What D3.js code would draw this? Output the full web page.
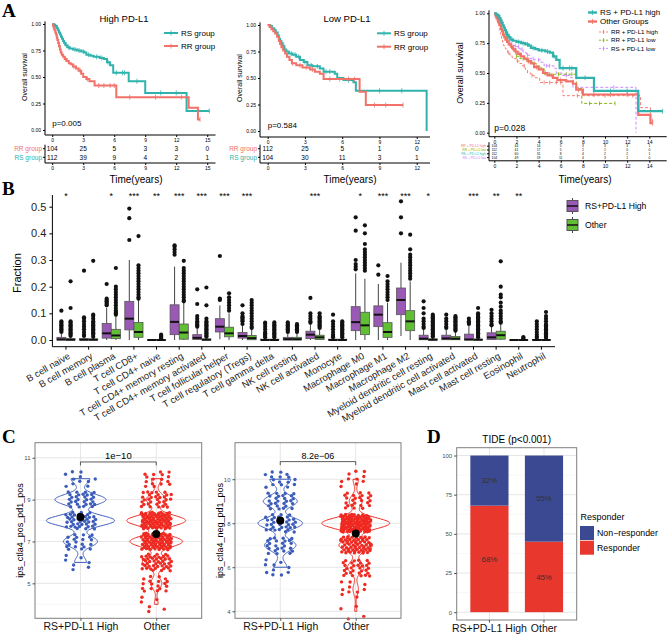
<!DOCTYPE html>
<html>
<head>
<meta charset="utf-8">
<script src="https://cdn.jsdelivr.net/npm/d3@7"></script>
<style>
body { margin: 0; background: #fff; }
svg { display: block; font-family: "Liberation Sans", Arial, sans-serif; }
</style>
</head>
<body>
<svg id="fig" width="669" height="637"></svg>
<script>
// ---------- Panel A: survival curves ([time, survival] steps) ----------
var ticksHigh = [0, 3, 6, 9, 12, 15];
var ticksLow = [0, 3, 6, 9, 12];
var ticksAll = [0, 2, 4, 6, 8, 10, 12, 14];

var highRS = [[0,1],[0.15,0.99],[0.3,0.98],[0.45,0.96],[0.55,0.94],[0.65,0.92],[0.75,0.9],[0.85,0.88],[0.95,0.86],[1.05,0.84],[1.15,0.82],[1.3,0.8],[1.45,0.78],[1.7,0.77],[2.0,0.76],[2.4,0.75],[2.8,0.74],[3.1,0.73],[3.3,0.71],[3.7,0.7],[4.0,0.69],[4.6,0.68],[5.0,0.67],[5.3,0.64],[5.6,0.61],[5.9,0.54],[7.4,0.46],[9.0,0.35],[13.0,0.18]];
var highRSEnd = 15.2;
var highRSCens = [0.3, 1.2, 1.6, 2.2, 2.6, 3.0, 3.5, 4.3, 4.8, 5.4, 6.2, 6.8, 7.0, 8.2, 10.5, 12.0, 15.2];

var highRR = [[0,1],[0.08,0.98],[0.15,0.96],[0.22,0.94],[0.3,0.92],[0.37,0.9],[0.44,0.87],[0.5,0.85],[0.58,0.82],[0.66,0.79],[0.74,0.76],[0.82,0.73],[0.92,0.71],[1.05,0.69],[1.2,0.67],[1.4,0.65],[1.6,0.63],[1.8,0.62],[2.0,0.6],[2.3,0.58],[2.55,0.56],[2.8,0.53],[3.0,0.5],[3.3,0.48],[3.6,0.46],[4.1,0.42],[6.2,0.31],[13.2,0.21],[14.1,0.1]];
var highRREnd = 14.3;
var highRRCens = [1.3, 2.1, 2.7, 3.4, 4.5, 5.0, 5.6, 6.0, 7.5, 10.0, 12.5, 14.3];

var lowRS = [[0,1],[0.2,0.99],[0.35,0.97],[0.5,0.95],[0.65,0.93],[0.8,0.9],[0.9,0.87],[1.0,0.85],[1.1,0.83],[1.2,0.8],[1.35,0.77],[1.5,0.75],[1.7,0.73],[2.0,0.72],[2.3,0.7],[2.6,0.67],[2.9,0.65],[3.2,0.62],[3.6,0.61],[4.2,0.59],[4.5,0.56],[5.4,0.54],[5.6,0.5],[6.1,0.48],[6.9,0.46],[7.1,0.38],[12.8,0]];
var lowRSEnd = 12.8;
var lowRSCens = [0.6, 1.3, 1.9, 2.2, 2.5, 3.0, 3.5, 4.0, 4.7, 5.0, 6.5, 9.0, 10.8];

var lowRR = [[0,1],[0.15,0.98],[0.3,0.96],[0.45,0.94],[0.6,0.92],[0.75,0.89],[0.9,0.85],[1.0,0.82],[1.1,0.79],[1.25,0.76],[1.4,0.73],[1.55,0.7],[1.75,0.67],[1.95,0.64],[2.3,0.62],[2.8,0.6],[3.4,0.58],[3.8,0.56],[4.2,0.54],[4.5,0.49],[7.4,0.37],[7.9,0.245]];
var lowRREnd = 10.9;
var lowRRCens = [1.2, 2.0, 2.6, 3.1, 3.6, 5.0, 5.8, 6.5, 7.0, 8.6, 9.5, 10.9];

var otherGroups = [[0,1],[0.1,0.98],[0.2,0.96],[0.3,0.94],[0.4,0.92],[0.5,0.9],[0.6,0.87],[0.7,0.85],[0.8,0.82],[0.9,0.8],[1.0,0.78],[1.15,0.76],[1.3,0.74],[1.5,0.72],[1.7,0.7],[1.9,0.68],[2.1,0.66],[2.4,0.64],[2.7,0.62],[3.0,0.6],[3.3,0.58],[3.6,0.55],[4.0,0.53],[4.4,0.5],[4.8,0.48],[5.3,0.46],[5.7,0.44],[6.5,0.43],[7.1,0.41],[7.4,0.36],[8.0,0.32],[13.0,0.15],[14.1,0.08]];
var otherGroupsEnd = 14.3;
var otherGroupsCens = [1.6, 2.3, 3.1, 3.8, 4.6, 5.2, 6.0, 7.6, 9.0, 10.5, 12.0, 14.3];

// numbers at risk
var riskHighRR = [104, 25, 5, 3, 3, 0];
var riskHighRS = [112, 39, 9, 4, 2, 1];
var riskLowRR = [112, 25, 5, 1, 0];
var riskLowRS = [104, 30, 11, 3, 1];
var riskAllRRHigh = [104, 44, 14, 5, 3, 3, 3, 1];
var riskAllRRLow = [112, 41, 17, 5, 2, 1, 0, 0];
var riskAllRSHigh = [112, 60, 31, 8, 4, 2, 2, 1];
var riskAllRSLow = [104, 49, 19, 11, 4, 3, 1, 0];

// ---------- Panel B: immune cell fractions ----------
var cellTypes = ["B cell naive", "B cell memory", "B cell plasma", "T cell CD8+", "T cell CD4+ naive",
  "T cell CD4+ memory resting", "T cell CD4+ memory activated", "T cell follicular helper",
  "T cell regulatory (Tregs)", "T cell gamma delta", "NK cell resting", "NK cell activated", "Monocyte",
  "Macrophage M0", "Macrophage M1", "Macrophage M2", "Myeloid dendritic cell resting",
  "Myeloid dendritic cell activated", "Mast cell activated", "Mast cell resting", "Eosinophil", "Neutrophil"];
var sigMarks = ["*", "", "*", "***", "**", "***", "***", "***", "***", "", "", "***", "", "*", "***", "***", "*", "", "***", "**", "**", ""];

// [lower whisker, q1, median, q3, upper whisker]
var boxHigh = [
  [0,0,0.002,0.01,0.025],[0,0,0.001,0.005,0.012],[0,0.007,0.025,0.062,0.12],[0,0.038,0.08,0.145,0.3],
  [0,0,0,0.001,0.002],[0,0.02,0.068,0.132,0.275],[0,0.002,0.008,0.02,0.045],[0.003,0.03,0.05,0.08,0.13],
  [0,0.007,0.015,0.028,0.055],[0,0,0,0.003,0.007],[0,0,0.003,0.01,0.025],[0,0.005,0.02,0.033,0.06],
  [0,0,0,0.003,0.007],[0,0.035,0.067,0.125,0.25],[0,0.05,0.095,0.128,0.21],[0.015,0.095,0.15,0.195,0.29],
  [0,0.001,0.005,0.018,0.04],[0,0.001,0.006,0.018,0.04],[0,0,0.002,0.022,0.055],[0,0.002,0.01,0.027,0.05],
  [0,0,0,0,0.001],[0,0,0,0.002,0.005]];
var boxOther = [
  [0,0,0.001,0.005,0.012],[0,0,0.001,0.004,0.01],[0,0.005,0.017,0.04,0.09],[0,0.01,0.03,0.066,0.15],
  [0,0,0,0.001,0.003],[0,0.003,0.028,0.06,0.14],[0,0,0.001,0.004,0.01],[0,0.012,0.025,0.048,0.1],
  [0,0.001,0.007,0.017,0.04],[0,0,0,0.003,0.007],[0,0,0.003,0.01,0.025],[0,0.002,0.01,0.018,0.04],
  [0,0,0,0.003,0.007],[0,0.02,0.055,0.104,0.23],[0,0.01,0.03,0.065,0.14],[0,0.035,0.07,0.11,0.22],
  [0,0,0.001,0.004,0.01],[0,0.001,0.005,0.013,0.03],[0,0,0.001,0.003,0.007],[0,0.003,0.018,0.033,0.06],
  [0,0,0,0,0.001],[0,0,0,0.002,0.005]];
var outHigh = [
  [0.03,0.035,0.04,0.045,0.05,0.055,0.06,0.065,0.07,0.11],
  [0.015,0.02,0.03,0.04,0.05,0.06,0.07,0.08,0.085,0.26],
  [0.13,0.135,0.14,0.145,0.15,0.155,0.21],
  [0.375,0.457,0.493],
  [],
  [0.32,0.33,0.34,0.35,0.355],
  [0.05,0.055,0.06,0.065,0.07,0.08,0.09,0.135,0.19],
  [0.15,0.155,0.315],
  [0.06,0.07,0.075,0.08,0.085,0.09,0.1,0.13],
  [0.01,0.015,0.02,0.025,0.03,0.04,0.05,0.06,0.065],
  [0.03,0.035,0.04,0.045,0.05,0.055,0.06,0.066],
  [0.065,0.07,0.08,0.09,0.1,0.158],
  [0.01,0.015,0.02,0.03,0.04,0.05,0.06,0.07,0.095],
  [0.265,0.275,0.285,0.3,0.41,0.46],
  [0.245,0.28],
  [0.4,0.46,0.52],
  [0.045,0.05,0.06,0.07,0.08,0.1,0.12,0.145],
  [0.045,0.05,0.06,0.07,0.08,0.095],
  [0.06,0.065,0.07,0.08],
  [0.055,0.06,0.07,0.08,0.09,0.1,0.113],
  [],
  [0.008,0.012,0.02,0.03,0.04,0.05,0.06,0.07]];
var outOther = [
  [0.015,0.02,0.025,0.03,0.035,0.04,0.045,0.05,0.055,0.06,0.065,0.07,0.12,0.22],
  [0.012,0.02,0.025,0.03,0.035,0.04,0.045,0.05,0.055,0.06,0.065,0.07,0.08,0.09,0.095,0.297],
  [0.095,0.1,0.105,0.11,0.12,0.13,0.14,0.15,0.16,0.17,0.18,0.19,0.2,0.27],
  [0.155,0.16,0.17,0.18,0.19,0.2,0.21,0.22,0.23,0.24,0.25,0.26,0.27,0.28,0.39],
  [0.005,0.008,0.012,0.016,0.02],
  [0.145,0.15,0.16,0.17,0.18,0.19,0.2,0.21,0.22,0.23,0.24,0.25,0.26,0.27,0.297],
  [0.012,0.015,0.02,0.025,0.03,0.035,0.04,0.045,0.05,0.055,0.06,0.065,0.07,0.08,0.13,0.197],
  [0.11,0.12,0.13,0.14,0.15,0.16,0.175],
  [0.045,0.05,0.06,0.07,0.08,0.09,0.1,0.11,0.12,0.13,0.14,0.15],
  [0.01,0.015,0.02,0.025,0.03,0.035,0.04,0.045,0.05,0.055,0.06,0.066],
  [0.03,0.035,0.04,0.045,0.05,0.055,0.06],
  [0.045,0.05,0.055,0.06,0.065,0.07,0.075,0.08,0.085,0.09,0.1],
  [0.01,0.015,0.02,0.025,0.03,0.035,0.04,0.045,0.05,0.055,0.06,0.065,0.07],
  [0.26,0.27,0.28,0.29,0.3,0.31,0.32,0.33,0.34,0.36,0.4,0.43],
  [0.15,0.16,0.17,0.18,0.19,0.2,0.21,0.22,0.24],
  [0.23,0.24,0.25,0.26,0.27,0.28,0.29,0.3,0.31,0.32,0.34,0.395],
  [0.012,0.015,0.02,0.025,0.03,0.035,0.04,0.045,0.05,0.055,0.06,0.065,0.07,0.075,0.08,0.085,0.09,0.095],
  [0.035,0.04,0.045,0.05,0.055,0.06,0.065,0.07,0.075,0.08,0.085,0.09],
  [0.01,0.015,0.02,0.025,0.03,0.035,0.04,0.045,0.05,0.055,0.06,0.065,0.07,0.075,0.08,0.085,0.09,0.095,0.1,0.12],
  [0.065,0.07,0.08,0.09,0.1,0.11,0.125,0.14,0.16,0.17,0.2,0.295],
  [0.004,0.008,0.011],
  [0.008,0.012,0.016,0.02,0.025,0.03,0.035,0.04,0.045,0.05,0.055,0.06,0.07,0.08,0.09,0.105]];

// ---------- Panel C: IPS scores (count of patients per score) ----------
var groupNames = ["RS+PD-L1 High", "Other"];
var ipsScores = [4, 5, 6, 7, 8, 9, 10];
var ipsPosHigh = [0, 0, 7, 20, 40, 30, 11];
var ipsPosOther = [6, 18, 45, 85, 95, 32, 16];
var ipsNegHigh = [0, 0, 10, 24, 34, 26, 16];
var ipsNegOther = [4, 10, 30, 62, 125, 24, 10];

// ---------- Panel D: TIDE ----------
var tideResponder = [68, 45];
var tideNonResponder = [32, 55];

var teal = "#2FB3AC", salmon = "#F07269", kmGreen = "#7CAE00", kmPurple = "#C77CFF";

var svg = d3.select("#fig");
svg.append("rect").attr("width", 669).attr("height", 637).attr("fill", "#fff");

// panel letters
[["A", 2, 17], ["B", 2, 195], ["C", 2, 443], ["D", 427, 443]].forEach(function(p) {
  svg.append("text").attr("x", p[1]).attr("y", p[2]).text(p[0])
    .attr("font-family", "Liberation Serif, Times New Roman, serif")
    .attr("font-weight", "bold").attr("font-size", 19);
});

// survival at time t from step data
function survAt(data, t) {
  var s = 1;
  data.forEach(function(d) { if (d[0] <= t) s = d[1]; });
  return s;
}

// draw one Kaplan-Meier panel
function kmPanel(o) {
  var g = svg.append("g");
  var x = d3.scaleLinear().domain(o.xDomain).range(o.xRange);
  var y = d3.scaleLinear().domain([0, 1]).range([o.y0, o.y1]);
  var ax = o.xRange[0];

  // axis lines
  g.append("line").attr("x1", ax).attr("x2", ax).attr("y1", y(1.025)).attr("y2", o.axisY)
    .attr("stroke", "#000").attr("stroke-width", 1);
  g.append("line").attr("x1", ax).attr("x2", o.xRange[1]).attr("y1", o.axisY).attr("y2", o.axisY)
    .attr("stroke", "#000").attr("stroke-width", 1);

  var yAxis = g.append("g").attr("transform", `translate(${ax},0)`)
    .call(d3.axisLeft(y).tickValues([0, 0.25, 0.5, 0.75, 1]).tickFormat(d3.format(".2f")).tickSize(2).tickPadding(2));
  yAxis.select(".domain").remove();
  yAxis.selectAll("text").attr("font-size", o.tickFont).attr("font-family", null);

  var xAxis = g.append("g").attr("transform", `translate(0,${o.axisY})`)
    .call(d3.axisBottom(x).tickValues(o.ticks).tickSize(2).tickPadding(1.5));
  xAxis.select(".domain").remove();
  xAxis.selectAll("text").attr("font-size", o.tickFont).attr("font-family", null);

  // curves
  var line = d3.line().x(d => x(d[0])).y(d => y(d[1])).curve(d3.curveStepAfter);
  o.curves.forEach(function(c) {
    var pts = c.data.concat([[c.end, c.data[c.data.length - 1][1]]]);
    g.append("path").datum(pts).attr("d", line)
      .attr("fill", "none").attr("stroke", c.color).attr("stroke-width", c.width)
      .attr("stroke-dasharray", c.dash || null);
    g.selectAll(null).data(c.cens).enter().append("line")
      .attr("x1", t => x(t)).attr("x2", t => x(t))
      .attr("y1", t => y(survAt(c.data, t)) - c.tick).attr("y2", t => y(survAt(c.data, t)) + c.tick)
      .attr("stroke", c.color).attr("stroke-width", 0.8);
  });

  // title, p-value, y label
  if (o.title) {
    g.append("text").attr("x", o.titleX).attr("y", 22).attr("text-anchor", "middle")
      .attr("font-size", 9.5).text(o.title);
  }
  g.append("text").attr("x", x(0)).attr("y", o.pY).attr("font-size", o.pFont).text(o.pText);
  g.append("text").attr("transform", `translate(${o.yLabX},${(o.y0 + o.y1) / 2}) rotate(-90)`)
    .attr("text-anchor", "middle").attr("font-size", o.yLabFont).text("Overall survival");

  // legend
  o.legend.forEach(function(l) {
    g.append("line").attr("x1", l.x).attr("x2", l.x + l.len).attr("y1", l.y).attr("y2", l.y)
      .attr("stroke", l.color).attr("stroke-width", l.width).attr("stroke-dasharray", l.dash || null);
    g.append("line").attr("x1", l.x + l.len / 2).attr("x2", l.x + l.len / 2)
      .attr("y1", l.y - l.tick).attr("y2", l.y + l.tick)
      .attr("stroke", l.color).attr("stroke-width", 0.8);
    g.append("text").attr("x", l.x + l.len + 3).attr("y", l.y).attr("dy", "0.35em")
      .attr("font-size", l.font).text(l.text);
  });

  // risk table
  var rows = o.risk;
  var top = o.rowY[0] - 4, bot = o.tableBottom;
  g.append("line").attr("x1", ax).attr("x2", ax).attr("y1", top).attr("y2", bot).attr("stroke", "#000");
  g.append("line").attr("x1", ax).attr("x2", o.xRange[1]).attr("y1", bot).attr("y2", bot).attr("stroke", "#000");
  rows.forEach(function(r, i) {
    var ry = o.rowY[i];
    g.append("line").attr("x1", ax - 2).attr("x2", ax).attr("y1", ry).attr("y2", ry).attr("stroke", "#000");
    g.append("text").attr("x", ax - 3).attr("y", ry).attr("dy", "0.35em").attr("text-anchor", "end")
      .attr("font-size", o.rowFont).attr("fill", r.color).text(r.label);
    g.selectAll(null).data(r.values).enter().append("text")
      .attr("x", (d, j) => x(o.ticks[j])).attr("y", ry).attr("dy", "0.35em")
      .attr("text-anchor", "middle").attr("font-size", o.rowFont).text(d => d);
  });
  var tAxis = g.append("g").attr("transform", `translate(0,${bot})`)
    .call(d3.axisBottom(x).tickValues(o.ticks).tickSize(2).tickPadding(1.5));
  tAxis.select(".domain").remove();
  tAxis.selectAll("text").attr("font-size", o.tickFont).attr("font-family", null);

  g.append("text").attr("x", o.timeX).attr("y", 179).attr("dy", "0.35em").attr("text-anchor", "middle")
    .attr("font-size", 10).text("Time(years)");
}

kmPanel({
  xDomain: [-0.7, 15.8], xRange: [45, 215.5], y0: 130, y1: 24, axisY: 135, ticks: ticksHigh, tickFont: 5,
  title: "High PD-L1", titleX: 124, pText: "p=0.005", pY: 126, pFont: 8, yLabX: 27, yLabFont: 7,
  curves: [
    { data: highRS, end: highRSEnd, cens: highRSCens, color: teal, width: 2, tick: 2.5 },
    { data: highRR, end: highRREnd, cens: highRRCens, color: salmon, width: 2, tick: 2.5 }
  ],
  legend: [
    { text: "RS group", x: 164, y: 33, len: 14, color: teal, width: 2, tick: 2.5, font: 8 },
    { text: "RR group", x: 164, y: 46, len: 14, color: salmon, width: 2, tick: 2.5, font: 8 }
  ],
  risk: [
    { label: "RR group", values: riskHighRR, color: salmon },
    { label: "RS group", values: riskHighRS, color: teal }
  ],
  rowY: [148.7, 157.3], tableBottom: 163, rowFont: 6.5, timeX: 136
});

kmPanel({
  xDomain: [-0.62, 13.07], xRange: [260, 430], y0: 131, y1: 25, axisY: 137, ticks: ticksLow, tickFont: 5,
  title: "Low PD-L1", titleX: 347, pText: "p=0.584", pY: 128, pFont: 8, yLabX: 242, yLabFont: 7,
  curves: [
    { data: lowRS, end: lowRSEnd, cens: lowRSCens, color: teal, width: 2, tick: 2.5 },
    { data: lowRR, end: lowRREnd, cens: lowRRCens, color: salmon, width: 2, tick: 2.5 }
  ],
  legend: [
    { text: "RS group", x: 377, y: 33.3, len: 14, color: teal, width: 2, tick: 2.5, font: 8 },
    { text: "RR group", x: 377, y: 46.7, len: 14, color: salmon, width: 2, tick: 2.5, font: 8 }
  ],
  risk: [
    { label: "RR group", values: riskLowRR, color: salmon },
    { label: "RS group", values: riskLowRS, color: teal }
  ],
  rowY: [148.7, 157.3], tableBottom: 163, rowFont: 6.5, timeX: 350
});

kmPanel({
  xDomain: [-0.48, 15.57], xRange: [489, 666.7], y0: 132.7, y1: 13.3, axisY: 136.7, ticks: ticksAll, tickFont: 5,
  title: null, pText: "p=0.028", pY: 131, pFont: 8.5, yLabX: 463, yLabFont: 9,
  curves: [
    { data: highRR, end: highRREnd, cens: highRRCens, color: salmon, width: 0.9, tick: 2, dash: "3,2" },
    { data: lowRR, end: lowRREnd, cens: lowRRCens, color: kmGreen, width: 0.9, tick: 2, dash: "3,2" },
    { data: lowRS, end: lowRSEnd, cens: lowRSCens, color: kmPurple, width: 0.9, tick: 2, dash: "3,2" },
    { data: otherGroups, end: otherGroupsEnd, cens: otherGroupsCens, color: salmon, width: 2.2, tick: 2.5 },
    { data: highRS, end: highRSEnd, cens: highRSCens, color: teal, width: 2.2, tick: 2.5 }
  ],
  legend: [
    { text: "RS + PD-L1 high", x: 588, y: 12.5, len: 9, color: teal, width: 2.4, tick: 2.5, font: 8 },
    { text: "Other Groups", x: 588, y: 21.5, len: 9, color: salmon, width: 2.4, tick: 2.5, font: 8 },
    { text: "RR + PD-L1 high", x: 599, y: 32, len: 9, color: salmon, width: 0.9, tick: 2, dash: "2,1.5", font: 6.2 },
    { text: "RR + PD-L1 low", x: 599, y: 40.2, len: 9, color: kmGreen, width: 0.9, tick: 2, dash: "2,1.5", font: 6.2 },
    { text: "RS + PD-L1 low", x: 599, y: 48.4, len: 9, color: kmPurple, width: 0.9, tick: 2, dash: "2,1.5", font: 6.2 }
  ],
  risk: [
    { label: "RR + PD-L1 high", values: riskAllRRHigh, color: salmon },
    { label: "RR + PD-L1 low", values: riskAllRRLow, color: kmGreen },
    { label: "RS + PD-L1 high", values: riskAllRSHigh, color: teal },
    { label: "RS + PD-L1 low", values: riskAllRSLow, color: kmPurple }
  ],
  rowY: [146.2, 150, 153.8, 157.6], tableBottom: 160.8, rowFont: 3.3, timeX: 585
});

// ---------- Panel B ----------
var purple = "#9B59B6", green = "#62BE35";
var bx = d3.scaleBand().domain(cellTypes).range([52.4, 555]).paddingOuter(0.1);
var by = d3.scaleLinear().domain([0, 0.5]).range([340, 206.7]);
var gB = svg.append("g");

gB.append("line").attr("x1", 52.4).attr("x2", 52.4).attr("y1", 195).attr("y2", 346.7).attr("stroke", "#000");
gB.append("line").attr("x1", 52.4).attr("x2", 555).attr("y1", 346.7).attr("y2", 346.7).attr("stroke", "#000");
var bY = gB.append("g").attr("transform", "translate(52.4,0)")
  .call(d3.axisLeft(by).tickValues([0, 0.1, 0.2, 0.3, 0.4, 0.5]).tickFormat(d3.format(".1f")).tickSize(3).tickPadding(3));
bY.select(".domain").remove();
bY.selectAll("text").attr("font-size", 11).attr("font-family", null).attr("fill", "#222");

gB.append("text").attr("transform", "translate(21,273) rotate(-90)").attr("text-anchor", "middle")
  .attr("font-size", 11).text("Fraction");

cellTypes.forEach(function(ct, i) {
  var cx = bx(ct) + bx.bandwidth() / 2;
  gB.append("line").attr("x1", cx).attr("x2", cx).attr("y1", 346.7).attr("y2", 349.7).attr("stroke", "#000");
  gB.append("text").attr("transform", `translate(${cx + 2},${353}) rotate(-30)`)
    .attr("text-anchor", "end").attr("dy", "0.6em").attr("font-size", 9.5).attr("fill", "#222").text(ct);
  gB.append("text").attr("x", cx).attr("y", 199).attr("text-anchor", "middle")
    .attr("font-size", 9).text(sigMarks[i]);

  [[boxHigh[i], outHigh[i], purple, -4.6], [boxOther[i], outOther[i], green, 4.6]].forEach(function(b) {
    var s = b[0], c = cx + b[3], w = 9;
    gB.append("line").attr("x1", c).attr("x2", c).attr("y1", by(s[0])).attr("y2", by(s[1])).attr("stroke", "#444");
    gB.append("line").attr("x1", c).attr("x2", c).attr("y1", by(s[3])).attr("y2", by(s[4])).attr("stroke", "#444");
    gB.append("rect").attr("x", c - w / 2).attr("width", w)
      .attr("y", by(s[3])).attr("height", Math.max(0.5, by(s[1]) - by(s[3])))
      .attr("fill", b[2]).attr("stroke", "#555").attr("stroke-width", 0.8);
    gB.append("line").attr("x1", c - w / 2).attr("x2", c + w / 2).attr("y1", by(s[2])).attr("y2", by(s[2]))
      .attr("stroke", "#111").attr("stroke-width", 2);
    gB.selectAll(null).data(b[1]).enter().append("circle")
      .attr("cx", c).attr("cy", d => by(d)).attr("r", 2.1).attr("fill", "#111");
  });
});

// legend B
[["RS+PD-L1 High", purple, 206], ["Other", green, 225]].forEach(function(l) {
  gB.append("line").attr("x1", 572.5).attr("x2", 572.5).attr("y1", l[2] - 8).attr("y2", l[2] + 8).attr("stroke", "#444");
  gB.append("rect").attr("x", 567).attr("y", l[2] - 5.5).attr("width", 11).attr("height", 11)
    .attr("fill", l[1]).attr("stroke", "#555");
  gB.append("line").attr("x1", 567).attr("x2", 578).attr("y1", l[2]).attr("y2", l[2]).attr("stroke", "#111").attr("stroke-width", 1.5);
  gB.append("text").attr("x", 585).attr("y", l[2]).attr("dy", "0.35em").attr("font-size", 8.6).text(l[0]);
});

// ---------- Panel C ----------
var violinBlue = "#3B5CBA", violinRed = "#EE2A22";

function gauss(u) { return Math.exp(-0.5 * u * u) / Math.sqrt(2 * Math.PI); }
function frac(v) { return v - Math.floor(v); }

function violinPanel(o) {
  var g = svg.append("g");
  var x = d3.scalePoint().domain(groupNames).range([o.left, o.right]).padding(0.6);
  var y = d3.scaleLinear().domain(o.yDomain).range([o.bottom, o.top]);
  var step = x.step();

  o.minors.forEach(function(v) {
    g.append("line").attr("x1", o.left).attr("x2", o.right).attr("y1", y(v)).attr("y2", y(v))
      .attr("stroke", "#F2F2F2").attr("stroke-width", 0.6);
  });
  o.majors.forEach(function(v) {
    g.append("line").attr("x1", o.left).attr("x2", o.right).attr("y1", y(v)).attr("y2", y(v))
      .attr("stroke", "#E6E6E6").attr("stroke-width", 1);
  });
  groupNames.forEach(function(n) {
    g.append("line").attr("x1", x(n)).attr("x2", x(n)).attr("y1", o.top).attr("y2", o.bottom)
      .attr("stroke", "#E6E6E6").attr("stroke-width", 1);
  });

  var bw = 0.25;
  var dens = o.counts.map(function(c) {
    var n = d3.sum(c);
    var present = ipsScores.filter((s, i) => c[i] > 0);
    return d3.range(d3.min(present), d3.max(present) + 0.001, 0.02).map(function(v) {
      return { v: v, d: d3.sum(c, (ci, i) => ci * gauss((v - ipsScores[i]) / bw)) / (n * bw) };
    });
  });
  var maxD = d3.max(dens, p => d3.max(p, q => q.d));
  var colors = [violinBlue, violinRed];

  groupNames.forEach(function(name, gi) {
    var cx = x(name);
    var half = d => d.d / maxD * 0.45 * step;
    g.append("path").datum(dens[gi])
      .attr("d", d3.area().y(d => y(d.v)).x0(d => cx - half(d)).x1(d => cx + half(d)))
      .attr("fill", "none").attr("stroke", colors[gi]).attr("stroke-width", 1);

    // jittered points
    var idx = 0, pts = [];
    o.counts[gi].forEach(function(c, si) {
      for (var j = 0; j < c; j++) {
        idx++;
        pts.push({
          x: cx + (frac(0.5 + 0.7548776662 * idx) - 0.5) * 0.4 * step,
          v: ipsScores[si] + (frac(0.5 + 0.5698402910 * idx) - 0.5) * 0.8
        });
      }
    });
    g.selectAll(null).data(pts).enter().append("circle")
      .attr("cx", d => d.x).attr("cy", d => y(d.v)).attr("r", 1.7).attr("fill", colors[gi]);

    var mean = d3.sum(o.counts[gi], (c, i) => c * ipsScores[i]) / d3.sum(o.counts[gi]);
    g.append("circle").attr("cx", cx).attr("cy", y(mean)).attr("r", 4).attr("fill", "#000");
  });

  // comparison bracket
  var yb = y(10.8), x1 = x(groupNames[0]), x2 = x(groupNames[1]);
  g.append("path").attr("d", `M${x1},${yb + 3.5}V${yb}H${x2}V${yb + 3.5}`)
    .attr("fill", "none").attr("stroke", "#333").attr("stroke-width", 0.8);
  g.append("text").attr("x", (x1 + x2) / 2).attr("y", yb - 3).attr("text-anchor", "middle")
    .attr("font-size", o.pFont).text(o.pText);

  g.append("rect").attr("x", o.left).attr("y", o.top).attr("width", o.right - o.left).attr("height", o.bottom - o.top)
    .attr("fill", "none").attr("stroke", "#7F7F7F").attr("stroke-width", 1);

  var yAxis = g.append("g").attr("transform", `translate(${o.left},0)`)
    .call(d3.axisLeft(y).tickValues(o.majors).tickSize(2.5).tickPadding(2));
  yAxis.select(".domain").remove();
  yAxis.selectAll("line").attr("stroke", "#4D4D4D");
  yAxis.selectAll("text").attr("font-size", 6).attr("font-family", null).attr("fill", "#4D4D4D");

  var xAxis = g.append("g").attr("transform", `translate(0,${o.bottom})`)
    .call(d3.axisBottom(x).tickSize(2.5).tickPadding(2));
  xAxis.select(".domain").remove();
  xAxis.selectAll("line").attr("stroke", "#4D4D4D");
  xAxis.selectAll("text").attr("font-size", 10.5).attr("font-family", null).attr("fill", "#111");

  g.append("text").attr("transform", `translate(${o.yLabX},${(o.top + o.bottom) / 2}) rotate(-90)`)
    .attr("text-anchor", "middle").attr("font-size", 9).text(o.yTitle);
}

violinPanel({
  left: 35, right: 201.7, top: 442.7, bottom: 618.3, yDomain: [3.33, 11.72],
  majors: [5, 7, 9, 11], minors: [4, 6, 8, 10], counts: [ipsPosHigh, ipsPosOther],
  yTitle: "ips_ctla4_pos_pd1_pos", yLabX: 22.5, pText: "1e\u221210", pFont: 9.5
});
violinPanel({
  left: 235, right: 401, top: 442.7, bottom: 618.3, yDomain: [3.68, 11.66],
  majors: [4, 6, 8, 10], minors: [5, 7, 9, 11], counts: [ipsNegHigh, ipsNegOther],
  yTitle: "ips_ctla4_neg_pd1_pos", yLabX: 222.5, pText: "8.2e\u221206", pFont: 9
});

// ---------- Panel D ----------
var tideBlue = "#3B4992", tideRed = "#E8372C";
var gD = svg.append("g");
var dx = d3.scaleBand().domain(groupNames).range([456.7, 576.7]).paddingInner(0.3).paddingOuter(0.25);
var dy = d3.scaleLinear().domain([-5, 105]).range([620, 447.7]);

[12.5, 37.5, 62.5, 87.5].forEach(function(v) {
  gD.append("line").attr("x1", 456.7).attr("x2", 576.7).attr("y1", dy(v)).attr("y2", dy(v))
    .attr("stroke", "#F2F2F2").attr("stroke-width", 0.6);
});
[0, 25, 50, 75, 100].forEach(function(v) {
  gD.append("line").attr("x1", 456.7).attr("x2", 576.7).attr("y1", dy(v)).attr("y2", dy(v))
    .attr("stroke", "#E6E6E6").attr("stroke-width", 1);
});
groupNames.forEach(function(n) {
  var c = dx(n) + dx.bandwidth() / 2;
  gD.append("line").attr("x1", c).attr("x2", c).attr("y1", 447.7).attr("y2", 620)
    .attr("stroke", "#E6E6E6").attr("stroke-width", 1);
});

groupNames.forEach(function(n, i) {
  var r = tideResponder[i], nr = tideNonResponder[i];
  gD.append("rect").attr("x", dx(n)).attr("width", dx.bandwidth())
    .attr("y", dy(r)).attr("height", dy(0) - dy(r)).attr("fill", tideRed);
  gD.append("rect").attr("x", dx(n)).attr("width", dx.bandwidth())
    .attr("y", dy(r + nr)).attr("height", dy(r) - dy(r + nr)).attr("fill", tideBlue);
  var c = dx(n) + dx.bandwidth() / 2;
  gD.append("text").attr("x", c).attr("y", dy(r / 2)).attr("dy", "0.35em").attr("text-anchor", "middle")
    .attr("font-size", 7.8).attr("fill", "#333").text(r + "%");
  gD.append("text").attr("x", c).attr("y", dy(r + nr / 2)).attr("dy", "0.35em").attr("text-anchor", "middle")
    .attr("font-size", 7.8).attr("fill", "#333").text(nr + "%");
});

gD.append("rect").attr("x", 456.7).attr("y", 447.7).attr("width", 120).attr("height", 172.3)
  .attr("fill", "none").attr("stroke", "#7F7F7F");
var dY = gD.append("g").attr("transform", "translate(456.7,0)")
  .call(d3.axisLeft(dy).tickValues([0, 25, 50, 75, 100]).tickSize(2.5).tickPadding(2));
dY.select(".domain").remove();
dY.selectAll("line").attr("stroke", "#4D4D4D");
dY.selectAll("text").attr("font-size", 6).attr("font-family", null).attr("fill", "#4D4D4D");
var dX = gD.append("g").attr("transform", "translate(0,620)")
  .call(d3.axisBottom(dx).tickSize(2.5).tickPadding(2));
dX.select(".domain").remove();
dX.selectAll("line").attr("stroke", "#4D4D4D");
dX.selectAll("text").attr("font-size", 10.5).attr("font-family", null).attr("fill", "#111");

gD.append("text").attr("x", 516.7).attr("y", 442.5).attr("text-anchor", "middle").attr("font-size", 10)
  .text("TIDE (p<0.001)");

gD.append("text").attr("x", 580.5).attr("y", 516.7).attr("dy", "0.35em").attr("font-size", 9).text("Responder");
[["Non\u2212responder", tideBlue, 526], ["Responder", tideRed, 540.7]].forEach(function(l) {
  gD.append("rect").attr("x", 580).attr("y", l[2]).attr("width", 14).attr("height", 14).attr("fill", l[1]);
  gD.append("text").attr("x", 597).attr("y", l[2] + 7).attr("dy", "0.35em").attr("font-size", 8.8).text(l[0]);
});
</script>
</body>
</html>
